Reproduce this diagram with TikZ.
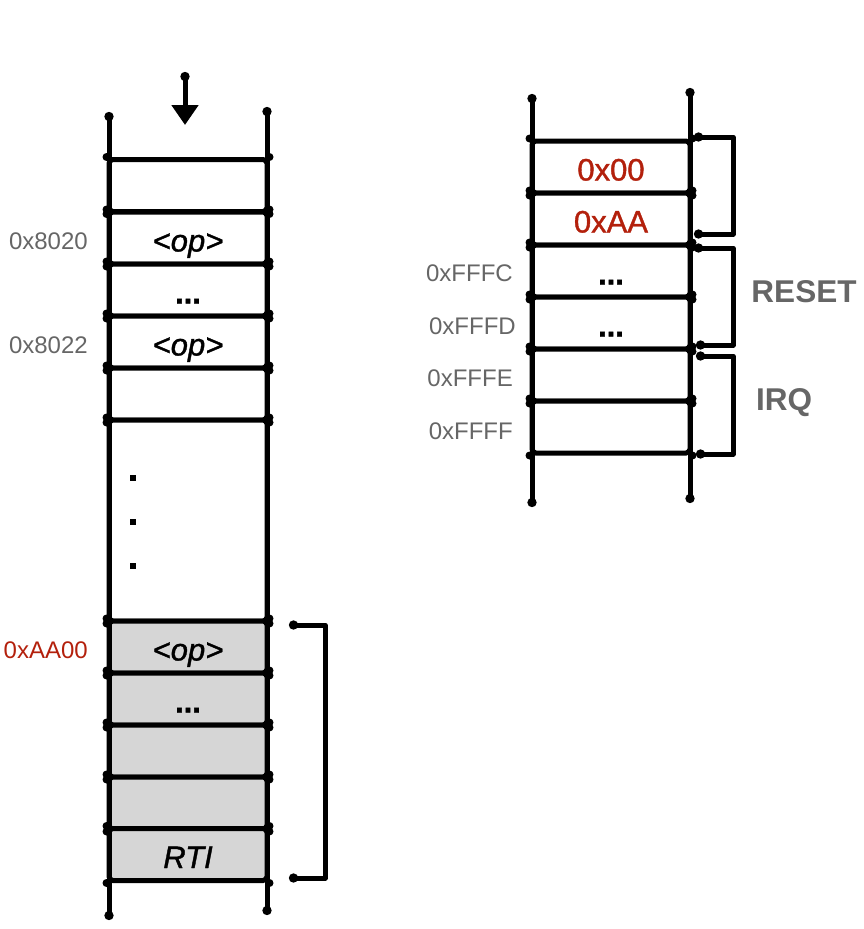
\documentclass[tikz,border=0pt]{standalone}
\usepackage{fontspec}
\setmainfont{Liberation Sans}
\newfontfamily\cellfont{Liberation Sans}[FakeBold=1.2]
\usetikzlibrary{arrows.meta}

\definecolor{addrgray}{HTML}{666666}
\definecolor{addrred}{HTML}{B3200C}
\definecolor{cellgray}{HTML}{D6D6D6}

\tikzset{
  cell/.style={draw, line width=5pt, rounded corners=4pt, fill=white,
    minimum width=158pt, minimum height=52pt, inner sep=0pt,
    text height=27pt, text depth=0pt, font=\cellfont\fontsize{31}{32}\selectfont},
  shaded/.style={cell, fill=cellgray},
  addr/.style={anchor=east, inner sep=0pt, text=addrgray, font=\fontsize{24}{25}\selectfont},
  hot/.style={text=addrred},
  rail/.style={line width=5pt, arrows={Circle[length=9pt]-Circle[length=9pt]}},
  brace/.style={line width=5pt, line join=round, arrows={Circle[length=9pt]-Circle[length=9pt]}},
  tag/.style={text=addrgray, font=\bfseries\fontsize{31.5}{32}\selectfont},
  dotmark/.style={fill=black, minimum size=6pt, inner sep=0pt},
}

\begin{document}
\begin{tikzpicture}[x=1pt, y=-1pt]
    \useasboundingbox (0,0) rectangle (863,929);

    % program memory
    \node (c1) at (188,185.5) [cell] {};
    \node (c2) at (188,238) [cell] {\itshape <op>};
    \node (c3) at (188,290) [cell] {\bfseries ...};
    \node (c4) at (188,342) [cell] {\itshape <op>};
    \node (c5) at (188,394) [cell] {};
    \node (gap) at (188,520.5) [cell, minimum height=201pt] {};
    \node (g1) at (188,647) [shaded] {\itshape <op>};
    \node (g2) at (188,699) [shaded] {\bfseries ...};
    \node (g3) at (188,751) [shaded] {};
    \node (g4) at (188,803) [shaded] {};
    \node (g5) at (188,854.5) [shaded] {\itshape RTI};

    \foreach \i/\y in {1/478,2/522,3/566} {
      \node (d\i) at (133,\y) [dotmark] {};
    }

    \node (a8020) at (88,241) [addr] {0x8020};
    \node (a8022) at (88,345) [addr] {0x8022};
    \node (aAA00) at (88,650) [addr, hot] {0xAA00};

    % vector table
    \node (r1) at (611,167) [cell] {\textcolor{addrred}{0x00}};
    \node (r2) at (611,219) [cell] {\textcolor{addrred}{0xAA}};
    \node (r3) at (611,271) [cell] {\bfseries ...};
    \node (r4) at (611,323) [cell] {\bfseries ...};
    \node (r5) at (611,375) [cell] {};
    \node (r6) at (611,427) [cell] {};

    \node (aFFFC) at (513,273) [addr] {0xFFFC};
    \node (aFFFD) at (516,326) [addr] {0xFFFD};
    \node (aFFFE) at (513,378) [addr] {0xFFFE};
    \node (aFFFF) at (513,431) [addr] {0xFFFF};

    \node (reset) at (804,292) [tag] {RESET};
    \node (irq) at (784,403) [tag] {IRQ};

    % junctions
    \foreach \c in {c1,c2,c3,c4,c5,gap,g1,g2,g3,g4,g5,r1,r2,r3,r4,r5,r6} {
      \foreach \k in {north west,north east,south west,south east} {
        \fill (\c.\k) circle (4pt);
      }
    }

    % rails
    \coordinate (lt) at (109,112);  \coordinate (lb) at (109,920);
    \coordinate (rt) at (267,107);  \coordinate (rb) at (267,915);
    \coordinate (vlt) at (532,94);  \coordinate (vlb) at (532,507);
    \coordinate (vrt) at (690,88);  \coordinate (vrb) at (690,503);
    \draw[rail] (lt) -- (lb);
    \draw[rail] (rt) -- (rb);
    \draw[rail] (vlt) -- (vlb);
    \draw[rail] (vrt) -- (vrb);

    % program counter
    \coordinate (pc) at (185,72);
    \coordinate (pchead) at (185,125);
    \draw[line width=5pt, arrows={Circle[length=9pt]-Triangle[width=26pt,length=20pt]}] (pc) -- (pchead);

    % brackets
    \coordinate (h1) at (289,625);  \coordinate (h2) at (325,625);
    \coordinate (h3) at (325,878);  \coordinate (h4) at (289,878);
    \draw[brace] (h1) -- (h2) -- (h3) -- (h4);

    \coordinate (v1) at (694,137);  \coordinate (v2) at (733,137);
    \coordinate (v3) at (733,234);  \coordinate (v4) at (694,234);
    \draw[brace] (v1) -- (v2) -- (v3) -- (v4);

    \coordinate (s1) at (694,248);  \coordinate (s2) at (733,248);
    \coordinate (s3) at (733,345);  \coordinate (s4) at (696,345);
    \draw[brace] (s1) -- (s2) -- (s3) -- (s4);

    \coordinate (q1) at (696,356);  \coordinate (q2) at (733,356);
    \coordinate (q3) at (733,454);  \coordinate (q4) at (696,454);
    \draw[brace] (q1) -- (q2) -- (q3) -- (q4);
\end{tikzpicture}
\end{document}
